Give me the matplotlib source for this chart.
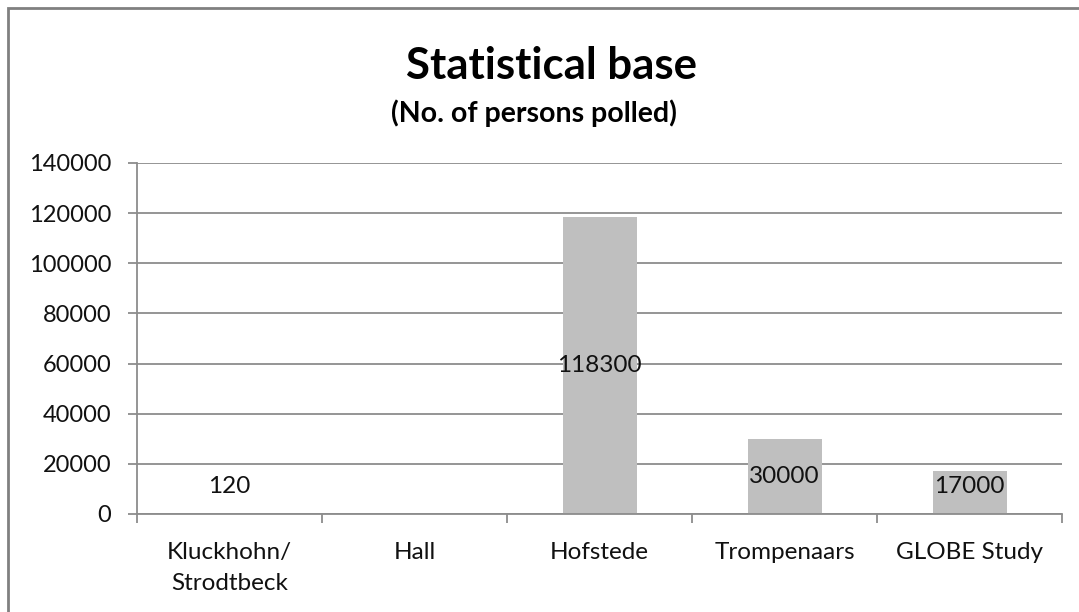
import matplotlib
matplotlib.use("Agg")
import matplotlib.pyplot as plt
from matplotlib.patches import Rectangle

categories = ["Kluckhohn/\nStrodtbeck", "Hall", "Hofstede", "Trompenaars", "GLOBE Study"]
values = [120, None, 118300, 30000, 17000]
yticks = [0, 20000, 40000, 60000, 80000, 100000, 120000, 140000]

plt.rcParams['font.family'] = ['Lato', 'DejaVu Sans']

W, H = 1079, 612
fig = plt.figure(figsize=(W/100, H/100), dpi=100)
fig.patch.set_facecolor('white')

# outer chart border
fig.add_artist(Rectangle((8/W, -0.1), 1.2, (H-8)/H + 0.1, transform=fig.transFigure,
                         fill=False, edgecolor='#808080', linewidth=2))

left, right = 137/W, 1062/W
bottom, top = 1 - 514/H, 1 - 163/H
ax = fig.add_axes([left, bottom, right-left, top-bottom])

x = list(range(len(categories)))
plot_vals = [v if v is not None else 0 for v in values]
ax.bar(x, plot_vals, width=0.4, color='#BFBFBF', zorder=2)

for xi, v in zip(x, values):
    if v is None:
        continue
    ypos = max(v / 2, 11000)
    ax.text(xi, ypos, f"{v}", ha='center', va='center', fontsize=17.5, color='#111111', zorder=3)

ax.set_xlim(-0.5, len(categories) - 0.5)
ax.set_ylim(0, 140000)
ax.set_yticks(yticks)
ax.set_yticklabels([str(t) for t in yticks], fontsize=17, color='#111111')
ax.yaxis.grid(True, color='#8c8c8c', linewidth=1.3, zorder=0)
ax.set_axisbelow(True)

ax.set_xticks([i - 0.5 for i in range(len(categories) + 1)])
ax.set_xticklabels([])
ax.set_xticks(x, minor=True)
ax.set_xticklabels(categories, minor=True, fontsize=17.5, color='#111111', linespacing=1.6)
ax.tick_params(axis='x', which='major', length=6.5, color='#8c8c8c', width=1.3)
ax.tick_params(axis='x', which='minor', length=0, pad=20)
ax.tick_params(axis='y', length=6.5, color='#8c8c8c', width=1.3, pad=12)

for s in ['top', 'right']:
    ax.spines[s].set_visible(False)
ax.spines['left'].set_color('#8c8c8c')
ax.spines['left'].set_linewidth(1.3)
ax.spines['bottom'].set_color('#8c8c8c')
ax.spines['bottom'].set_linewidth(1.3)

fig.text(551/W, 1 - 66/H, "Statistical base", ha='center', va='center', fontsize=31.5, fontweight='bold')
fig.text(534/W, 1 - 113/H, "(No. of persons polled)", ha='center', va='center', fontsize=20.5, fontweight='bold')

fig.savefig("out.png", dpi=100)
